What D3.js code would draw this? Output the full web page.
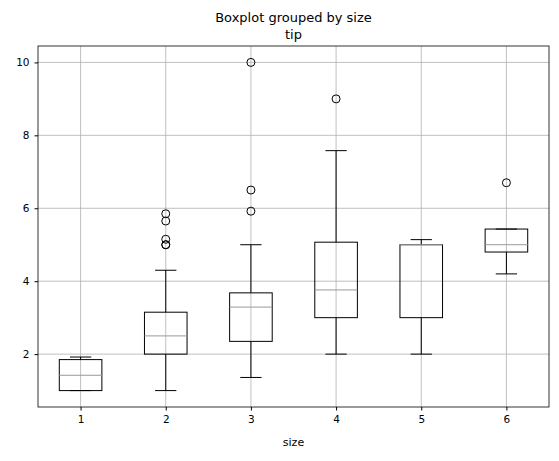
<!DOCTYPE html>
<html><head><meta charset="utf-8">
<script src="https://cdn.jsdelivr.net/npm/d3@7"></script>
<style>body{margin:0;background:#fff;font-family:"DejaVu Sans",sans-serif}</style>
</head><body><div id="chart"></div>
<script>
// tip stats per party size
const SIZES = [1, 2, 3, 4, 5, 6]
const Q1 = [1.0, 2.0, 2.35, 3.0, 3.0, 4.8]
const MEDIANS = [1.42, 2.5, 3.29, 3.76, 5.0, 5.0]
const Q3 = [1.85, 3.15, 3.68, 5.07, 5.0, 5.43]
const WHISK_LO = [1.0, 1.0, 1.36, 2.0, 2.0, 4.2]
const WHISK_HI = [1.92, 4.3, 5.0, 7.58, 5.14, 5.43]
const OUTLIERS = [[], [5.0, 5.0, 5.15, 5.65, 5.85], [5.92, 6.5, 10.0], [9.0], [], [6.7]]
const Y_TICKS = [2, 4, 6, 8, 10]

const W = 559, H = 461
const M = {left: 38, right: 10, top: 46, bottom: 54}

const svg = d3.select("#chart").append("svg")
    .attr("width", W).attr("height", H)

const x = d3.scaleLinear().domain([0.5, 6.5]).range([M.left, W - M.right])
const y = d3.scaleLinear().domain([0.55, 10.45]).range([H - M.bottom, M.top])

// grid
const grid = svg.append("g").attr("stroke", "#b0b0b0").attr("stroke-width", 0.8)
grid.selectAll(".gx").data(SIZES).enter().append("line")
    .attr("x1", d => x(d)).attr("x2", d => x(d))
    .attr("y1", M.top).attr("y2", H - M.bottom)
grid.selectAll(".gy").data(Y_TICKS).enter().append("line")
    .attr("x1", M.left).attr("x2", W - M.right)
    .attr("y1", d => y(d)).attr("y2", d => y(d))

// axes
svg.append("g").attr("transform", `translate(0,${H - M.bottom})`)
    .call(d3.axisBottom(x).tickValues(SIZES).tickFormat(d3.format("d"))
      .tickSizeOuter(0).tickSize(3.5).tickPadding(5))
svg.append("g").attr("transform", `translate(${M.left},0)`)
    .call(d3.axisLeft(y).tickValues(Y_TICKS).tickFormat(d3.format("d"))
      .tickSizeOuter(0).tickSize(3.5).tickPadding(5))
svg.selectAll(".tick text").attr("font-size", 10.5).attr("font-family", "DejaVu Sans").attr("fill", "#000")
svg.selectAll(".domain").remove()
svg.append("rect").attr("x", M.left).attr("y", M.top)
    .attr("width", W - M.left - M.right).attr("height", H - M.top - M.bottom)
    .attr("fill", "none").attr("stroke", "#000").attr("stroke-width", 0.8)

// boxes
const bw = x(1.25) - x(1), cw = bw / 2
const box = svg.append("g").selectAll("g").data(SIZES).enter().append("g")
box.each(function(s, i) {
  const g = d3.select(this), cx = x(s)
  const ln = (x1, y1, x2, y2, c) => g.append("line").attr("x1", x1).attr("y1", y1)
      .attr("x2", x2).attr("y2", y2).attr("stroke", c || "#000").attr("stroke-width", 1)
  ln(cx, y(Q1[i]), cx, y(WHISK_LO[i]))
  ln(cx, y(Q3[i]), cx, y(WHISK_HI[i]))
  ln(cx - cw, y(WHISK_LO[i]), cx + cw, y(WHISK_LO[i]))
  ln(cx - cw, y(WHISK_HI[i]), cx + cw, y(WHISK_HI[i]))
  g.append("rect").attr("x", cx - bw).attr("width", 2 * bw)
      .attr("y", y(Q3[i])).attr("height", Math.max(0, y(Q1[i]) - y(Q3[i])))
      .attr("fill", "none").attr("stroke", "#000")
  ln(cx - bw, y(MEDIANS[i]), cx + bw, y(MEDIANS[i]), "#999")
  g.selectAll("circle").data(OUTLIERS[i]).enter().append("circle")
      .attr("cx", cx).attr("cy", d => y(d)).attr("r", 4)
      .attr("fill", "none").attr("stroke", "#000")
})

// titles
svg.append("text").attr("x", (M.left + W - M.right) / 2).attr("y", 22)
    .attr("text-anchor", "middle").attr("font-size", 13).text("Boxplot grouped by size")
svg.append("text").attr("x", (M.left + W - M.right) / 2).attr("y", 39)
    .attr("text-anchor", "middle").attr("font-size", 13).text("tip")
svg.append("text").attr("x", (M.left + W - M.right) / 2).attr("y", 446)
    .attr("text-anchor", "middle").attr("font-size", 11).text("size")
</script></body></html>
